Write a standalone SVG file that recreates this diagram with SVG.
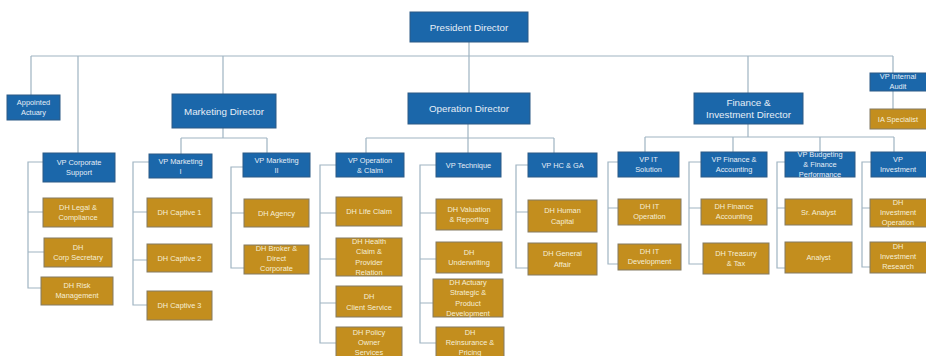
<svg xmlns="http://www.w3.org/2000/svg" width="926" height="356" viewBox="0 0 926 356">
<style>
.b{fill:#1b67aa;stroke:#2c5b86;stroke-width:1}
.g{fill:#c38e1e;stroke:#847b62;stroke-width:1}
text{font-family:"Liberation Sans",Arial,sans-serif;text-anchor:middle;font-size:7.4px}
.bt{fill:#e6eef7}
.gt{fill:#f6eed8}
.big{font-size:9.8px}
#conn path{fill:none;stroke:#9fb4c2;stroke-width:1.2}
</style>
<rect width="926" height="356" fill="#ffffff"/>
<g id="conn">
<path d="M469 42V93M31 56H893M31 56V95M78 56V153M223 56V94M748 56V93M893 56V73M893 91V109"/>
<path d="M223 128V138M181 138H267M181 138V154M267 138V153"/>
<path d="M468 124V153M366 138H554M366 138V153M554 138V153"/>
<path d="M748 124V137M645 137H894M645 137V152M733 137V152M820 137V152M894 137V152"/>
<path d="M43 162H28V288H41M28 212H43M28 252H44"/>
<path d="M149 162H133V305H147M133 212H147M133 260H147"/>
<path d="M243 167H231V268H244M231 213H244"/>
<path d="M336 165H320V343H336M320 213H336M320 259H336M320 303H336"/>
<path d="M436 165H420V343H436M420 213H436M420 259H436M420 303H433"/>
<path d="M528 165H516V268H528M516 212H528"/>
<path d="M618 162H608V264H618M608 208H618"/>
<path d="M701 162H689V264H703M689 208H701"/>
<path d="M785 162H777V268H785M777 208H785"/>
<path d="M871 162H862V267H870M862 208H870"/>
</g>
<g id="president"><rect class="b" x="410" y="12" width="118" height="30"/><text class="bt big" x="469" y="30.5">President Director</text></g>
<g id="actuary"><rect class="b" x="7" y="95" width="53" height="25"/><text class="bt" x="33.5" y="105">Appointed</text><text class="bt" x="33.5" y="115">Actuary</text></g>
<g id="vp-corporate"><rect class="b" x="43" y="153" width="72" height="29"/><text class="bt" x="79" y="165">VP Corporate</text><text class="bt" x="79" y="175">Support</text></g>
<g id="marketing"><rect class="b" x="172" y="94" width="104" height="34"/><text class="bt big" x="224" y="114.5">Marketing Director</text></g>
<g id="vp-mkt1"><rect class="b" x="149" y="154" width="63" height="24"/><text class="bt" x="180.5" y="164">VP Marketing</text><text class="bt" x="180.5" y="174">I</text></g>
<g id="vp-mkt2"><rect class="b" x="243" y="153" width="67" height="24"/><text class="bt" x="276.5" y="163">VP Marketing</text><text class="bt" x="276.5" y="173">II</text></g>
<g id="operation"><rect class="b" x="408" y="93" width="122" height="31"/><text class="bt big" x="469" y="111.5">Operation Director</text></g>
<g id="vp-opc"><rect class="b" x="336" y="153" width="68" height="24"/><text class="bt" x="370" y="163">VP Operation</text><text class="bt" x="370" y="173">&amp; Claim</text></g>
<g id="vp-tech"><rect class="b" x="436" y="153" width="65" height="24"/><text class="bt" x="468.5" y="167.5">VP Technique</text></g>
<g id="vp-hc"><rect class="b" x="528" y="153" width="69" height="24"/><text class="bt" x="562.5" y="167.5">VP HC &amp; GA</text></g>
<g id="finance"><rect class="b" x="694" y="93" width="109" height="31"/><text class="bt big" x="748.5" y="105.5">Finance &amp;</text><text class="bt big" x="748.5" y="118">Investment Director</text></g>
<g id="vp-it"><rect class="b" x="618" y="152" width="61" height="25"/><text class="bt" x="648.5" y="162">VP IT</text><text class="bt" x="648.5" y="172">Solution</text></g>
<g id="vp-fa"><rect class="b" x="701" y="152" width="66" height="25"/><text class="bt" x="734" y="162">VP Finance &amp;</text><text class="bt" x="734" y="172">Accounting</text></g>
<g id="vp-bud"><rect class="b" x="785" y="152" width="70" height="25"/><text class="bt" x="820" y="157">VP Budgeting</text><text class="bt" x="820" y="167">&amp; Finance</text><text class="bt" x="820" y="177">Performance</text></g>
<g id="vp-inv"><rect class="b" x="871" y="152" width="56" height="25"/><text class="bt" x="898" y="162">VP</text><text class="bt" x="898" y="172">Investment</text></g>
<g id="vp-ia"><rect class="b" x="870" y="73" width="57" height="18"/><text class="bt" x="898" y="79">VP Internal</text><text class="bt" x="898" y="89">Audit</text></g>
<g id="ia-spec"><rect class="g" x="870" y="109" width="57" height="20"/><text class="gt" x="898" y="121.5">IA Specialist</text></g>
<g id="dh-legal"><rect class="g" x="43" y="198" width="70" height="29"/><text class="gt" x="78" y="210">DH  Legal &amp;</text><text class="gt" x="78" y="220">Compliance</text></g>
<g id="dh-corpsec"><rect class="g" x="44" y="238" width="68" height="29"/><text class="gt" x="78" y="250">DH</text><text class="gt" x="78" y="260">Corp Secretary</text></g>
<g id="dh-risk"><rect class="g" x="41" y="277" width="72" height="28"/><text class="gt" x="77" y="288">DH Risk</text><text class="gt" x="77" y="298">Management</text></g>
<g id="dh-cap1"><rect class="g" x="147" y="198" width="65" height="29"/><text class="gt" x="179.5" y="215">DH Captive  1</text></g>
<g id="dh-cap2"><rect class="g" x="147" y="244" width="65" height="28"/><text class="gt" x="179.5" y="260.5">DH Captive  2</text></g>
<g id="dh-cap3"><rect class="g" x="147" y="291" width="65" height="29"/><text class="gt" x="179.5" y="308">DH Captive  3</text></g>
<g id="dh-agency"><rect class="g" x="244" y="199" width="65" height="28"/><text class="gt" x="276.5" y="215.5">DH Agency</text></g>
<g id="dh-broker"><rect class="g" x="244" y="245" width="65" height="29"/><text class="gt" x="276.5" y="251">DH Broker &amp;</text><text class="gt" x="276.5" y="261">Direct</text><text class="gt" x="276.5" y="271">Corporate</text></g>
<g id="dh-life"><rect class="g" x="336" y="197" width="66" height="29"/><text class="gt" x="369" y="214">DH  Life Claim</text></g>
<g id="dh-health"><rect class="g" x="336" y="238" width="66" height="38"/><text class="gt" x="369" y="244">DH Health</text><text class="gt" x="369" y="254">Claim &amp;</text><text class="gt" x="369" y="264.5">Provider</text><text class="gt" x="369" y="275">Relation</text></g>
<g id="dh-client"><rect class="g" x="336" y="286" width="66" height="31"/><text class="gt" x="369" y="299">DH</text><text class="gt" x="369" y="309.5">Client Service</text></g>
<g id="dh-policy"><rect class="g" x="336" y="327" width="66" height="32"/><text class="gt" x="369" y="335">DH  Policy</text><text class="gt" x="369" y="345">Owner</text><text class="gt" x="369" y="355">Services</text></g>
<g id="dh-valuation"><rect class="g" x="436" y="199" width="66" height="31"/><text class="gt" x="469" y="212">DH Valuation</text><text class="gt" x="469" y="222">&amp; Reporting</text></g>
<g id="dh-uw"><rect class="g" x="436" y="242" width="66" height="31"/><text class="gt" x="469" y="255">DH</text><text class="gt" x="469" y="265">Underwriting</text></g>
<g id="dh-actuary"><rect class="g" x="433" y="279" width="70" height="38"/><text class="gt" x="468" y="285">DH Actuary</text><text class="gt" x="468" y="295">Strategic &amp;</text><text class="gt" x="468" y="305.5">Product</text><text class="gt" x="468" y="316">Development</text></g>
<g id="dh-reins"><rect class="g" x="436" y="327" width="68" height="32"/><text class="gt" x="470" y="335">DH</text><text class="gt" x="470" y="345">Reinsurance &amp;</text><text class="gt" x="470" y="355">Pricing</text></g>
<g id="dh-human"><rect class="g" x="528" y="200" width="69" height="32"/><text class="gt" x="562.5" y="213">DH Human</text><text class="gt" x="562.5" y="224">Capital</text></g>
<g id="dh-ga"><rect class="g" x="528" y="243" width="69" height="32"/><text class="gt" x="562.5" y="256">DH General</text><text class="gt" x="562.5" y="267">Affair</text></g>
<g id="dh-itop"><rect class="g" x="618" y="199" width="63" height="26"/><text class="gt" x="649.5" y="209">DH IT</text><text class="gt" x="649.5" y="219">Operation</text></g>
<g id="dh-itdev"><rect class="g" x="618" y="244" width="63" height="26"/><text class="gt" x="649.5" y="254">DH  IT</text><text class="gt" x="649.5" y="264">Development</text></g>
<g id="dh-finacc"><rect class="g" x="701" y="199" width="66" height="26"/><text class="gt" x="734" y="209">DH  Finance</text><text class="gt" x="734" y="219">Accounting</text></g>
<g id="dh-treasury"><rect class="g" x="703" y="243" width="66" height="31"/><text class="gt" x="736" y="256">DH Treasury</text><text class="gt" x="736" y="266">&amp; Tax</text></g>
<g id="sr-analyst"><rect class="g" x="785" y="199" width="67" height="26"/><text class="gt" x="818.5" y="214.5">Sr. Analyst</text></g>
<g id="analyst"><rect class="g" x="785" y="242" width="67" height="31"/><text class="gt" x="818.5" y="260">Analyst</text></g>
<g id="dh-invop"><rect class="g" x="870" y="199" width="57" height="28"/><text class="gt" x="898" y="205">DH</text><text class="gt" x="898" y="215">Investment</text><text class="gt" x="898" y="225">Operation</text></g>
<g id="dh-invres"><rect class="g" x="870" y="242" width="57" height="31"/><text class="gt" x="898" y="249">DH</text><text class="gt" x="898" y="259">Investment</text><text class="gt" x="898" y="269">Research</text></g>
</svg>
